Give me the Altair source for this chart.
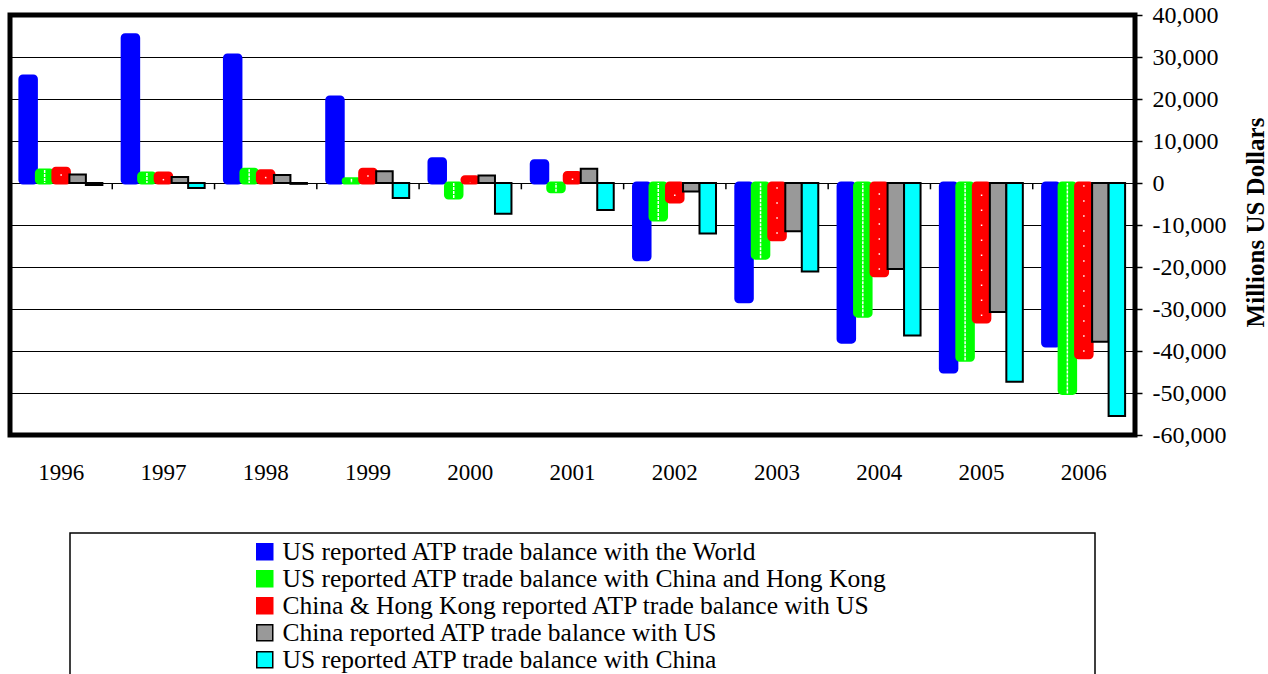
import altair as alt
import pandas as pd

# Agricultural/ATP trade balance series, millions of US dollars
years = ["1996", "1997", "1998", "1999", "2000", "2001", "2002", "2003", "2004", "2005", "2006"]
series_names = [
    "US reported ATP trade balance with the World",
    "US reported ATP trade balance with China and Hong Kong",
    "China & Hong Kong reported ATP trade balance with US",
    "China reported ATP trade balance with US",
    "US reported ATP trade balance with China",
]
us_world = [25500, 35300, 30500, 20500, 5800, 5300, -18300, -28300, -37900, -45000, -38800]
us_china_hk = [3100, 2400, 3300, 1000, -3600, -2100, -8800, -17900, -31700, -42200, -50100]
china_hk_us = [3500, 2400, 2900, 3300, 1500, 2500, -4500, -13500, -22100, -33100, -41600]
china_us = [2000, 1400, 1900, 2800, 1800, 3400, -2000, -11500, -20500, -30700, -37800]
us_china = [-500, -1200, -200, -3600, -7300, -6400, -12000, -21100, -36300, -47300, -55500]

fill_colors = ["#0000FF", "#00FF00", "#FF0000", "#999999", "#00FFFF"]
stroke_colors = ["#0000FF", "#00FF00", "#FF0000", "#000000", "#000000"]
y_ticks = [40000, 30000, 20000, 10000, 0, -10000, -20000, -30000, -40000, -50000, -60000]

all_series = [us_world, us_china_hk, china_hk_us, china_us, us_china]
rows = []
for s_idx, (name, vals) in enumerate(zip(series_names, all_series)):
    for yr, v in zip(years, vals):
        rows.append({"year": yr, "series": name, "value": v, "zero": 0, "idx": s_idx})
df = pd.DataFrame(rows)
year_df = pd.DataFrame({"year": years, "value": [0] * len(years), "tick_end": [-1500] * len(years)})

SERIF = "Liberation Serif"

x_axis = alt.Axis(
    title=None, labelAngle=0, ticks=False, domain=False, grid=False,
    labelPadding=26, labelFontSize=23, labelFont=SERIF, labelColor="black",
)
x_scale = alt.Scale(domain=years, paddingInner=0, paddingOuter=0)
x_enc = alt.X("year:O", sort=years, scale=x_scale, axis=x_axis)
xoff_enc = alt.XOffset(
    "series:N",
    scale=alt.Scale(domain=series_names, paddingInner=0, paddingOuter=0.6),
)
y_axis = alt.Axis(
    orient="right", values=y_ticks,
    labelExpr="replace(format(datum.value, ','), '\u2212', '-')",
    title="Millions US Dollars",
    titleAngle=270, titleFontWeight="bold", titleFontSize=25, titleFont=SERIF,
    titleColor="black", titleX=120, titleY=207, titleAlign="center", titleBaseline="middle",
    labelFontSize=24, labelFont=SERIF, labelColor="black", labelPadding=10,
    tickColor="black", tickSize=7, tickWidth=1.5, domain=False,
    grid=True, gridColor="black", gridWidth=1.2,
)
y_scale = alt.Scale(domain=[-60000, 40000], nice=False, zero=False)
y_enc = alt.Y("value:Q", scale=y_scale, axis=y_axis)

fill_enc = alt.Fill(
    "series:N",
    scale=alt.Scale(domain=series_names, range=fill_colors),
    legend=alt.Legend(
        title=None, orient="none", legendX=242, legendY=524, padding=0,
        symbolType="square", symbolSize=256, symbolStrokeWidth=1.5,
        labelFontSize=25.5, labelFont=SERIF, labelColor="black", labelLimit=1000,
        labelOffset=5, rowPadding=0,
    ),
)
stroke_enc = alt.Stroke(
    "series:N",
    scale=alt.Scale(domain=series_names, range=stroke_colors),
)

soft = series_names[:3]
outlined = series_names[3:]

# Blue/green/red columns: soft rounded bars
bars_soft = alt.Chart(df).transform_filter(
    alt.FieldOneOfPredicate(field="series", oneOf=soft)
).mark_bar(cornerRadius=3, strokeWidth=3).encode(
    x=x_enc, xOffset=xoff_enc, y=y_enc, fill=fill_enc, stroke=stroke_enc,
    order=alt.Order("idx:Q"),
)

# White dash texture on the green columns
green_df = df[df["series"] == series_names[1]]
red_df = df[df["series"] == series_names[2]]
green_a = alt.Chart(green_df).mark_rule(
    color="white", strokeWidth=1.5, strokeDash=[3, 5], xOffset=-3
).encode(x=x_enc, xOffset=xoff_enc, y=y_enc, y2="zero:Q")
green_b = alt.Chart(green_df).mark_rule(
    color="white", strokeWidth=1.5, strokeDash=[3, 5], strokeDashOffset=4, xOffset=3
).encode(x=x_enc, xOffset=xoff_enc, y=y_enc, y2="zero:Q")
# White dot texture on the red columns
red_dots = alt.Chart(red_df).mark_rule(
    color="white", strokeWidth=1.5, strokeDash=[1.5, 13.5], strokeDashOffset=-6
).encode(x=x_enc, xOffset=xoff_enc, y=y_enc, y2="zero:Q")

# Gray/cyan columns with black outline
bars_outlined = alt.Chart(df).transform_filter(
    alt.FieldOneOfPredicate(field="series", oneOf=outlined)
).mark_bar(strokeWidth=2).encode(
    x=x_enc, xOffset=xoff_enc, y=y_enc, fill=fill_enc, stroke=stroke_enc,
    order=alt.Order("idx:Q"),
)

# Category divider ticks on the zero line
dividers = alt.Chart(year_df).mark_rule(color="black", strokeWidth=1.5).encode(
    x=alt.X("year:O", sort=years, bandPosition=0, scale=x_scale, axis=x_axis),
    y=y_enc, y2="tick_end:Q",
)

# Frame around the legend
legend_box = alt.Chart(alt.Data(values=[{"k": 1}])).mark_rect(
    filled=False, stroke="black", strokeWidth=1.5
).encode(
    x=alt.value(60), x2=alt.value(1085), y=alt.value(518), y2=alt.value(700),
)

chart = alt.layer(
    bars_soft, green_a, green_b, red_dots, bars_outlined, dividers, legend_box
).properties(
    width=1125, height=420,
    autosize=alt.AutoSizeParams(type="none"),
    padding={"left": 10, "top": 15, "right": 133, "bottom": 239},
    background="white",
).configure_view(
    stroke="black", strokeWidth=5,
)

chart.save("out.html", embed_options={"renderer": "svg", "actions": False})
